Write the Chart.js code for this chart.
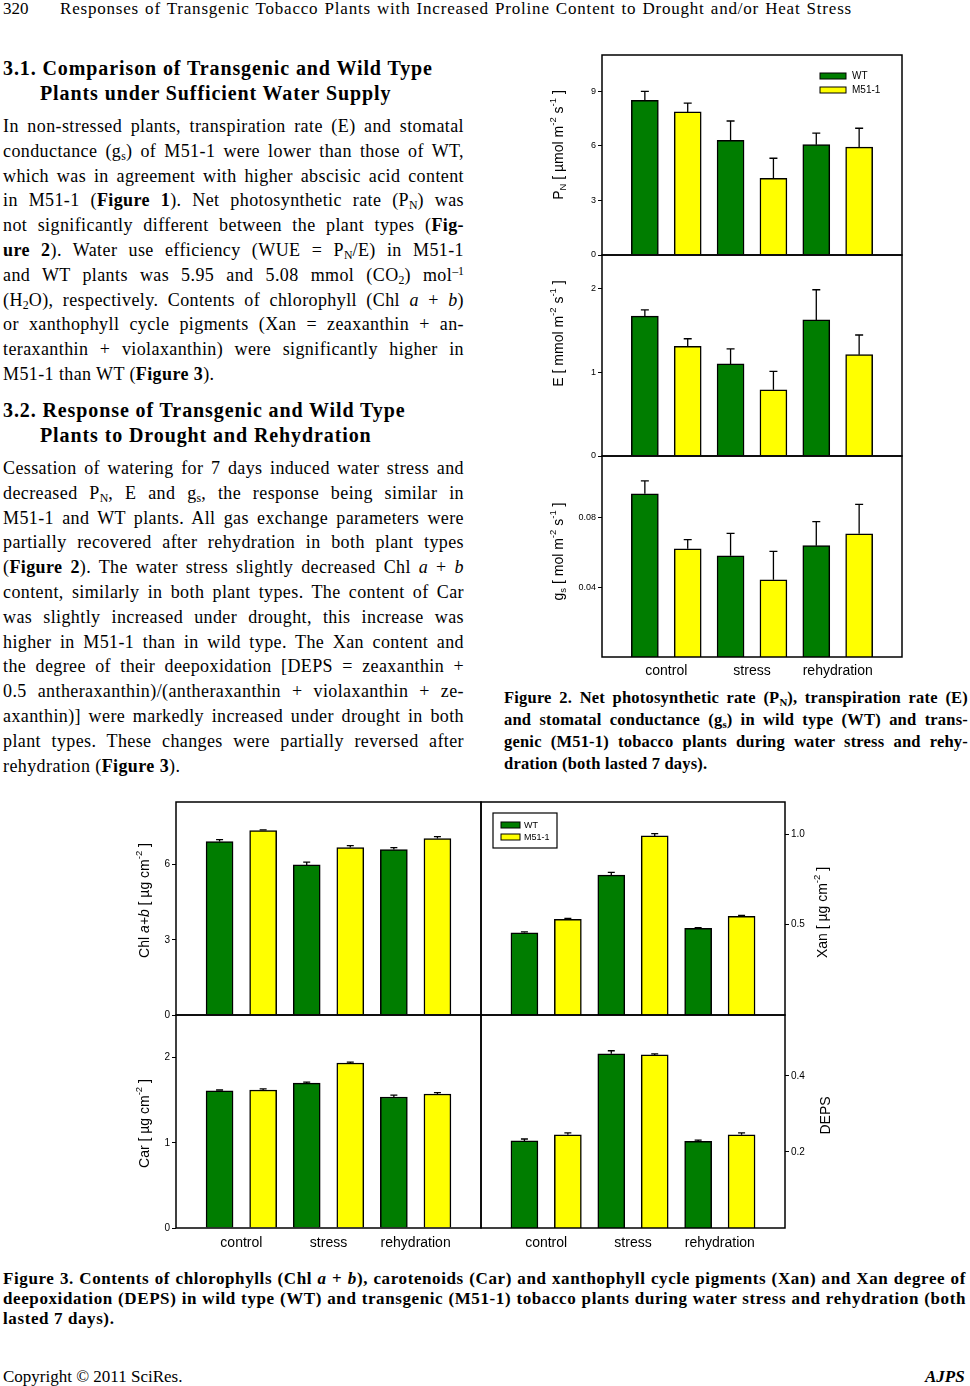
<!DOCTYPE html>
<html>
<head>
<meta charset="utf-8">
<script src="https://cdn.jsdelivr.net/npm/chart.js@4.4.1/dist/chart.umd.min.js"></script>
<style>
  html, body { margin: 0; padding: 0; background: #fff; }
  #page { position: relative; width: 970px; height: 1386px; overflow: hidden;
          font-family: 'Liberation Serif', 'Times New Roman', serif; color: #000; }
  .ln { position: absolute; white-space: nowrap; line-height: 20px; height: 20px; }
  .j { white-space: normal; text-align: justify; text-align-last: justify; }
  sub, sup { font-size: 0.66em; line-height: 0; letter-spacing: 0; }
  sub { vertical-align: -0.25em; }
  sup { vertical-align: 0.5em; }
  canvas { position: absolute; }
</style>
</head>
<body>
<div id="page"></div>
<script>
// ---- data ----
const categories = ['control', 'stress', 'rehydration'];
const seriesNames = ['WT', 'M51-1'];

// Figure 2
const pnWT = [8.51, 6.31, 6.07];
const pnWTse = [0.49, 1.06, 0.63];
const pnM51 = [7.87, 4.22, 5.93];
const pnM51se = [0.48, 1.10, 1.04];

const eWT = [1.67, 1.10, 1.625];
const eWTse = [0.075, 0.18, 0.36];
const eM51 = [1.31, 0.79, 1.21];
const eM51se = [0.09, 0.22, 0.235];

const gsWT = [0.0934, 0.0579, 0.0637];
const gsWTse = [0.0074, 0.0128, 0.0137];
const gsM51 = [0.0619, 0.0442, 0.0705];
const gsM51se = [0.0052, 0.0162, 0.0168];

// Figure 3
const chlWT = [6.92, 5.99, 6.60];
const chlWTse = [0.08, 0.11, 0.08];
const chlM51 = [7.36, 6.68, 7.04];
const chlM51se = [0.03, 0.08, 0.08];

const xanWT = [0.455, 0.775, 0.48];
const xanWTse = [0.005, 0.015, 0.004];
const xanM51 = [0.53, 0.992, 0.546];
const xanM51se = [0.005, 0.013, 0.006];

const carWT = [1.61, 1.70, 1.538];
const carWTse = [0.01, 0.012, 0.022];
const carM51 = [1.62, 1.937, 1.573];
const carM51se = [0.012, 0.011, 0.015];

const depsWT = [0.229, 0.458, 0.228];
const depsWTse = [0.005, 0.008, 0.003];
const depsM51 = [0.245, 0.455, 0.245];
const depsM51se = [0.005, 0.003, 0.005];

// tick labels
const pnTicks = ['0', '3', '6', '9'];
const eTicks = ['0', '1', '2'];
const gsTicks = ['0.04', '0.08'];
const chlTicks = ['0', '3', '6'];
const carTicks = ['0', '1', '2'];
const xanTicks = ['0.5', '1.0'];
const depsTicks = ['0.2', '0.4'];

const GREEN = '#007d00';
const YELLOW = '#ffff00';

const page = document.getElementById('page');

// ---- page text ----
function addLine(html, o) {
  const d = document.createElement('div');
  d.className = 'ln' + (o.justify ? ' j' : '');
  d.style.left = o.left + 'px';
  d.style.top = (o.cy - 10) + 'px';
  if (o.width) d.style.width = o.width + 'px';
  d.style.fontSize = o.size + 'px';
  if (o.ls) d.style.letterSpacing = o.ls + 'px';
  if (o.bold) d.style.fontWeight = 'bold';
  if (o.italic) d.style.fontStyle = 'italic';
  d.innerHTML = html;
  page.appendChild(d);
}
function addPara(lines, o) {
  lines.forEach((l, i) => addLine(l, {
    left: o.left, width: o.width, size: o.size, bold: o.bold, ls: o.ls,
    cy: o.cy + i * o.step, justify: i < lines.length - 1 || o.justifyLast
  }));
}

addLine('320', {left: 3, cy: 9, size: 17});
addLine('Responses of Transgenic Tobacco Plants with Increased Proline Content to Drought and/or Heat Stress',
  {left: 60, cy: 9, size: 17, ls: 0.8, width: 792, justify: true});

addLine('3.1. Comparison of Transgenic and Wild Type', {left: 3, cy: 68, size: 20, bold: true, ls: 0.9});
addLine('Plants under Sufficient Water Supply', {left: 40, cy: 93, size: 20, bold: true, ls: 0.9});

addPara([
  'In non-stressed plants, transpiration rate (E) and stomatal',
  'conductance (g<sub>s</sub>) of M51-1 were lower than those of WT,',
  'which was in agreement with higher abscisic acid content',
  'in M51-1 (<b>Figure 1</b>). Net photosynthetic rate (P<sub>N</sub>) was',
  'not significantly different between the plant types (<b>Fig-</b>',
  '<b>ure 2</b>). Water use efficiency (WUE = P<sub>N</sub>/E) in M51-1',
  'and WT plants was 5.95 and 5.08 mmol (CO<sub>2</sub>) mol<sup>–1</sup>',
  '(H<sub>2</sub>O), respectively. Contents of chlorophyll (Chl <i>a</i> + <i>b</i>)',
  'or xanthophyll cycle pigments (Xan = zeaxanthin + an-',
  'teraxanthin + violaxanthin) were significantly higher in',
  'M51-1 than WT (<b>Figure 3</b>).'
], {left: 3, width: 461, size: 18, ls: 0.4, cy: 126, step: 24.8});

addLine('3.2. Response of Transgenic and Wild Type', {left: 3, cy: 410, size: 20, bold: true, ls: 0.9});
addLine('Plants to Drought and Rehydration', {left: 40, cy: 435, size: 20, bold: true, ls: 0.9});

addPara([
  'Cessation of watering for 7 days induced water stress and',
  'decreased P<sub>N</sub>, E and g<sub>s</sub>, the response being similar in',
  'M51-1 and WT plants. All gas exchange parameters were',
  'partially recovered after rehydration in both plant types',
  '(<b>Figure 2</b>). The water stress slightly decreased Chl <i>a</i> + <i>b</i>',
  'content, similarly in both plant types. The content of Car',
  'was slightly increased under drought, this increase was',
  'higher in M51-1 than in wild type. The Xan content and',
  'the degree of their deepoxidation [DEPS = zeaxanthin +',
  '0.5 antheraxanthin)/(antheraxanthin + violaxanthin + ze-',
  'axanthin)] were markedly increased under drought in both',
  'plant types. These changes were partially reversed after',
  'rehydration (<b>Figure 3</b>).'
], {left: 3, width: 461, size: 18, ls: 0.4, cy: 468, step: 24.8});

addPara([
  'Figure 2. Net photosynthetic rate (P<sub>N</sub>), transpiration rate (E)',
  'and stomatal conductance (g<sub>s</sub>) in wild type (WT) and trans-',
  'genic (M51-1) tobacco plants during water stress and rehy-',
  'dration (both lasted 7 days).'
], {left: 504, width: 464, size: 16.5, bold: true, ls: 0.2, cy: 697.5, step: 22.2});

addPara([
  'Figure 3. Contents of chlorophylls (Chl <i>a</i> + <i>b</i>), carotenoids (Car) and xanthophyll cycle pigments (Xan) and Xan degree of',
  'deepoxidation (DEPS) in wild type (WT) and transgenic (M51-1) tobacco plants during water stress and rehydration (both',
  'lasted 7 days).'
], {left: 3, width: 963, size: 17, bold: true, ls: 0.6, cy: 1279, step: 20});

addLine('Copyright © 2011 SciRes.', {left: 3, cy: 1377, size: 17});
addLine('AJPS', {left: 925, cy: 1377, size: 17, bold: true, italic: true});

// ---- chart plugins ----
Chart.defaults.font.family = "'Liberation Sans', Arial, sans-serif";
Chart.defaults.color = '#000';

const framePlugin = {
  id: 'frame',
  afterDraw(chart) {
    const {ctx, chartArea: a} = chart;
    ctx.save();
    ctx.strokeStyle = '#000';
    ctx.lineWidth = 1.5;
    ctx.strokeRect(a.left, a.top, a.right - a.left, a.bottom - a.top);
    ctx.restore();
  }
};

const errorPlugin = {
  id: 'errbars',
  afterDatasetsDraw(chart, args, opts) {
    const {ctx} = chart;
    const yScale = chart.scales.y;
    ctx.save();
    ctx.strokeStyle = '#000';
    ctx.lineWidth = 1.3;
    chart.data.datasets.forEach((ds, di) => {
      const meta = chart.getDatasetMeta(di);
      meta.data.forEach((bar, i) => {
        const top = yScale.getPixelForValue(ds.data[i].y + ds.errors[i]);
        ctx.beginPath();
        ctx.moveTo(bar.x, bar.y);
        ctx.lineTo(bar.x, top);
        ctx.moveTo(bar.x - opts.cap / 2, top);
        ctx.lineTo(bar.x + opts.cap / 2, top);
        ctx.stroke();
      });
    });
    ctx.restore();
  }
};

const titlePlugin = {
  id: 'richTitle',
  afterDraw(chart, args, o) {
    const {ctx, chartArea: a} = chart;
    const size = o.size;
    const fam = Chart.defaults.font.family;
    const fontFor = p => (p.it ? 'italic ' : '') + ((p.sub || p.sup) ? size * 0.68 : size) + 'px ' + fam;
    let total = 0;
    o.parts.forEach(p => { ctx.font = fontFor(p); total += ctx.measureText(p.t).width; });
    const x = o.side === 'left' ? a.left - o.dx : a.right + o.dx;
    const y = (a.top + a.bottom) / 2 + o.dy;
    ctx.save();
    ctx.translate(x, y);
    ctx.rotate(-Math.PI / 2);
    ctx.fillStyle = '#000';
    ctx.textBaseline = 'alphabetic';
    let cx = -total / 2;
    const base = size * 0.36;
    o.parts.forEach(p => {
      ctx.font = fontFor(p);
      let by = base;
      if (p.sup) by = base - size * 0.48;
      if (p.sub) by = base + size * 0.22;
      ctx.fillText(p.t, cx, by);
      cx += ctx.measureText(p.t).width;
    });
    ctx.restore();
  }
};

const legendPlugin = {
  id: 'boxLegend',
  afterDraw(chart, args, o) {
    if (!o.show) return;
    const {ctx, chartArea: a} = chart;
    ctx.save();
    if (o.box) {
      ctx.strokeStyle = '#000';
      ctx.lineWidth = 1.2;
      ctx.strokeRect(a.left + o.box[0], a.top + o.box[1], o.box[2], o.box[3]);
    }
    ctx.font = o.size + 'px ' + Chart.defaults.font.family;
    ctx.textBaseline = 'middle';
    chart.data.datasets.forEach((ds, i) => {
      const sx = a.left + o.x;
      const sy = a.top + o.y + i * o.step;
      ctx.fillStyle = ds.backgroundColor;
      ctx.fillRect(sx, sy, o.w, o.h);
      ctx.strokeStyle = '#000';
      ctx.lineWidth = 1;
      ctx.strokeRect(sx, sy, o.w, o.h);
      ctx.fillStyle = '#000';
      ctx.fillText(ds.label, a.left + o.tx, sy + o.h / 2 + 0.5);
    });
    ctx.restore();
  }
};

// ---- panels ----
function makePanel(p) {
  const cv = document.createElement('canvas');
  cv.width = p.w; cv.height = p.h;
  cv.style.left = p.x + 'px';
  cv.style.top = p.y + 'px';
  cv.style.width = p.w + 'px';
  cv.style.height = p.h + 'px';
  page.appendChild(cv);

  const left = p.side === 'left';
  new Chart(cv, {
    type: 'bar',
    data: {
      datasets: [
        { label: seriesNames[0], data: p.wt.map((v, i) => ({x: 2 * i, y: v})), errors: p.wtSe,
          backgroundColor: GREEN, borderColor: '#000', borderWidth: 1.5,
          grouped: false, barThickness: 27 },
        { label: seriesNames[1], data: p.m51.map((v, i) => ({x: 2 * i + 1, y: v})), errors: p.m51Se,
          backgroundColor: YELLOW, borderColor: '#000', borderWidth: 1.5,
          grouped: false, barThickness: 27 }
      ]
    },
    options: {
      responsive: false,
      animation: false,
      devicePixelRatio: 1,
      layout: { padding: {
        left: left ? 0 : p.padSide,
        right: left ? p.padSide : 0,
        top: 10,
        bottom: p.cats ? 0 : 10
      } },
      scales: {
        x: {
          type: 'linear', min: -1, max: 6, offset: false,
          display: p.cats,
          grid: { display: false, drawTicks: false, offset: false },
          border: { display: false },
          afterBuildTicks: s => { s.ticks = categories.map((c, i) => ({value: 2 * i + 0.5})); },
          ticks: { callback: (v, i) => categories[i], font: {size: 14}, color: '#000',
                   padding: p.catPad || 0, maxRotation: 0, autoSkip: false },
          afterFit: s => { if (p.xAxisH) s.height = p.xAxisH; }
        },
        y: {
          position: p.side,
          min: 0, max: p.yMax,
          afterBuildTicks: s => { s.ticks = p.ticks.map(t => ({value: Number(t)})); },
          ticks: { callback: (v, i) => p.ticks[i], font: {size: p.tickSize}, color: '#000', padding: 2 },
          grid: { drawOnChartArea: false, drawTicks: true, tickLength: 4, color: '#000', lineWidth: 1 },
          border: { display: false },
          afterFit: s => { s.width = p.axisW; }
        }
      },
      plugins: {
        legend: { display: false },
        tooltip: { enabled: false },
        errbars: { cap: p.cap },
        richTitle: { parts: p.title, side: p.side, dx: p.tdx, dy: p.tdy, size: 14 },
        boxLegend: p.legend || { show: false }
      }
    },
    plugins: [errorPlugin, framePlugin, titlePlugin, legendPlugin]
  });
}

// Figure 2
makePanel({ x: 530, y: 45, w: 382, h: 220, side: 'left', axisW: 72, padSide: 10, cats: false,
  wt: pnWT, wtSe: pnWTse, m51: pnM51, m51Se: pnM51se, yMax: 11, ticks: pnTicks, tickSize: 9, cap: 8,
  title: [{t: 'P'}, {t: 'N', sub: 1}, {t: ' [ µmol m'}, {t: '-2', sup: 1}, {t: ' s'}, {t: '-1', sup: 1}, {t: ' ]'}],
  tdx: 44, tdy: -10,
  legend: { show: true, x: 218, y: 18, step: 14, w: 26, h: 6, tx: 250, size: 10 } });

makePanel({ x: 530, y: 245, w: 382, h: 221, side: 'left', axisW: 72, padSide: 10, cats: false,
  wt: eWT, wtSe: eWTse, m51: eM51, m51Se: eM51se, yMax: 2.4, ticks: eTicks, tickSize: 9, cap: 8,
  title: [{t: 'E [ mmol m'}, {t: '-2', sup: 1}, {t: ' s'}, {t: '-1', sup: 1}, {t: ' ]'}],
  tdx: 44, tdy: -22 });

makePanel({ x: 530, y: 446, w: 382, h: 244, side: 'left', axisW: 72, padSide: 10, cats: true,
  xAxisH: 33, catPad: 6,
  wt: gsWT, wtSe: gsWTse, m51: gsM51, m51Se: gsM51se, yMax: 0.115, ticks: gsTicks, tickSize: 9, cap: 8,
  title: [{t: 'g'}, {t: 's', sub: 1}, {t: ' [ mol m'}, {t: '-2', sup: 1}, {t: ' s'}, {t: '-1', sup: 1}, {t: ' ]'}],
  tdx: 44, tdy: -5 });

// Figure 3
makePanel({ x: 120, y: 792, w: 370, h: 233, side: 'left', axisW: 56, padSide: 9, cats: false,
  wt: chlWT, wtSe: chlWTse, m51: chlM51, m51Se: chlM51se, yMax: 8.5, ticks: chlTicks, tickSize: 10, cap: 7,
  title: [{t: 'Chl '}, {t: 'a+b', it: 1}, {t: ' [ µg cm'}, {t: '-2', sup: 1}, {t: ' ]'}],
  tdx: 32, tdy: -8 });

makePanel({ x: 472, y: 792, w: 378, h: 233, side: 'right', axisW: 65, padSide: 9, cats: false,
  wt: xanWT, wtSe: xanWTse, m51: xanM51, m51Se: xanM51se, yMax: 1.18, ticks: xanTicks, tickSize: 10, cap: 7,
  title: [{t: 'Xan [ µg cm'}, {t: '-2', sup: 1}, {t: ' ]'}],
  tdx: 37, tdy: 4,
  legend: { show: true, box: [12, 11, 64, 35], x: 20, y: 20, step: 12, w: 19, h: 6, tx: 43, size: 9 } });

makePanel({ x: 120, y: 1005, w: 370, h: 257, side: 'left', axisW: 56, padSide: 9, cats: true,
  xAxisH: 34, catPad: 7,
  wt: carWT, wtSe: carWTse, m51: carM51, m51Se: carM51se, yMax: 2.5, ticks: carTicks, tickSize: 10, cap: 7,
  title: [{t: 'Car [ µg cm'}, {t: '-2', sup: 1}, {t: ' ]'}],
  tdx: 32, tdy: 2 });

makePanel({ x: 472, y: 1005, w: 378, h: 257, side: 'right', axisW: 65, padSide: 9, cats: true,
  xAxisH: 34, catPad: 7,
  wt: depsWT, wtSe: depsWTse, m51: depsM51, m51Se: depsM51se, yMax: 0.56, ticks: depsTicks, tickSize: 10, cap: 7,
  title: [{t: 'DEPS'}],
  tdx: 40, tdy: -6 });
</script>
</body>
</html>
